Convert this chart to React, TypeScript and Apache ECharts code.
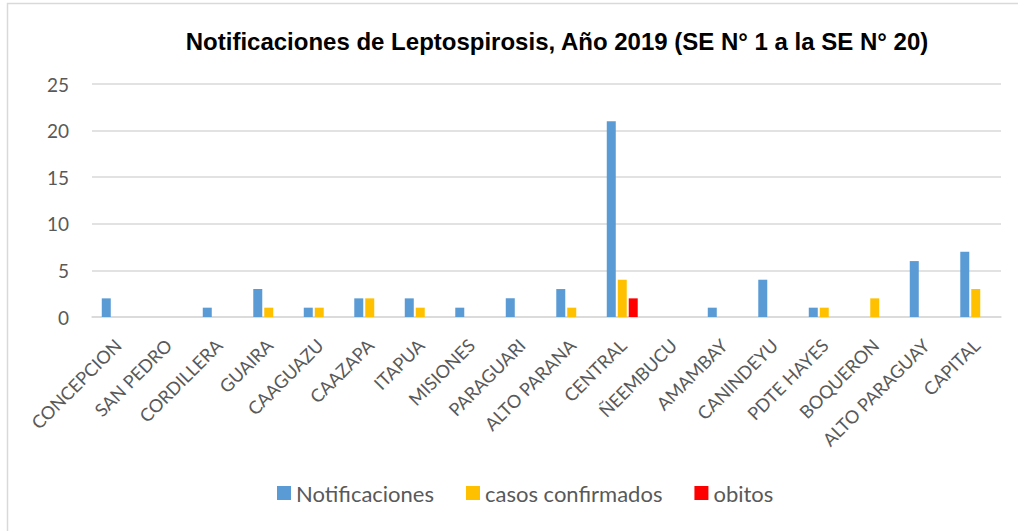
import React, { useEffect, useRef } from "react";
import * as echarts from "echarts";

const categories = [
  "CONCEPCION", "SAN PEDRO", "CORDILLERA", "GUAIRA", "CAAGUAZU", "CAAZAPA",
  "ITAPUA", "MISIONES", "PARAGUARI", "ALTO PARANA", "CENTRAL", "ÑEEMBUCU",
  "AMAMBAY", "CANINDEYU", "PDTE HAYES", "BOQUERON", "ALTO PARAGUAY", "CAPITAL",
];
const notificaciones = [2, 0, 1, 3, 1, 2, 2, 1, 2, 3, 21, 0, 1, 4, 1, 0, 6, 7];
const casosConfirmados = [0, 0, 0, 1, 1, 2, 1, 0, 0, 1, 4, 0, 0, 0, 1, 2, 0, 3];
const obitos = [0, 0, 0, 0, 0, 0, 0, 0, 0, 0, 2, 0, 0, 0, 0, 0, 0, 0];

const TITLE = "Notificaciones de Leptospirosis, Año 2019 (SE N° 1 a la SE N° 20)";
const FONT = "Lato, 'Noto Sans', sans-serif";
const LABEL_COLOR = "#595959";

export default function App() {
  const ref = useRef<HTMLDivElement>(null);
  useEffect(() => {
    if (!ref.current) return;
    const chart = echarts.init(ref.current, undefined, { renderer: "svg" });
    const bar = (name: string, data: number[], color: string) => ({
      name,
      type: "bar",
      data,
      barWidth: 9,
      barGap: "22%",
      itemStyle: { color },
    });
    chart.setOption({
      animation: false,
      backgroundColor: "#ffffff",
      title: {
        text: TITLE,
        left: 552,
        textAlign: "center",
        top: 24,
        textStyle: {
          fontFamily: "'Liberation Sans', Arial, sans-serif",
          fontWeight: "bold",
          fontSize: 24,
          color: "#000000",
        },
      },
      graphic: [
        {
          type: "rect",
          shape: { x: 7.5, y: 3.5, width: 1200, height: 700 },
          style: { fill: "none", stroke: "#D9D9D9", lineWidth: 1.5 },
          silent: true,
        },
      ],
      legend: {
        bottom: 22,
        left: 272,
        itemWidth: 14,
        itemHeight: 14,
        itemGap: 32,
        icon: "rect",
        textStyle: { fontFamily: FONT, fontSize: 22, color: LABEL_COLOR },
        data: ["Notificaciones", "casos confirmados", "obitos"],
      },
      grid: { left: 92, right: 17, top: 84, bottom: 214, containLabel: false },
      xAxis: {
        type: "category",
        data: categories,
        axisTick: { show: false },
        axisLine: { lineStyle: { color: "#D9D9D9", width: 1.5 } },
        axisLabel: {
          interval: 0,
          rotate: 45,
          margin: 13,
          padding: [0, 8, 0, 0],
          verticalAlign: "top",
          fontFamily: FONT,
          fontSize: 18,
          color: LABEL_COLOR,
        },
      },
      yAxis: {
        type: "value",
        min: 0,
        max: 25,
        interval: 5,
        axisLine: { show: false },
        axisTick: { show: false },
        splitLine: { lineStyle: { color: "#D9D9D9", width: 1.5 } },
        axisLabel: {
          margin: 23,
          fontFamily: FONT,
          fontSize: 19,
          color: LABEL_COLOR,
        },
      },
      series: [
        bar("Notificaciones", notificaciones, "#5B9BD5"),
        bar("casos confirmados", casosConfirmados, "#FFC000"),
        bar("obitos", obitos, "#FF0000"),
      ],
    });
    return () => chart.dispose();
  }, []);
  return (
    <div
      ref={ref}
      style={{ position: "absolute", left: 0, top: 0, width: 1018, height: 531 }}
    />
  );
}
